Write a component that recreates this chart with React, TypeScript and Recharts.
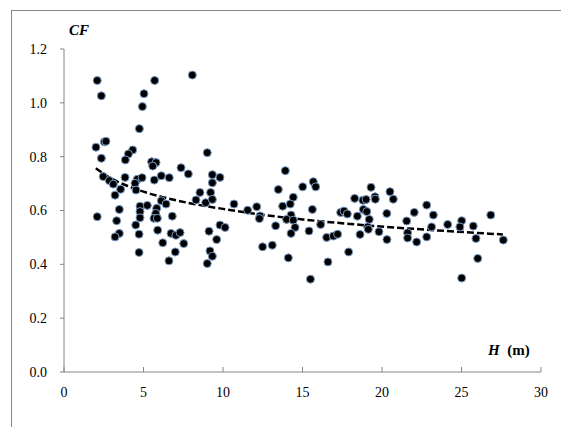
import React from 'react';
import { ComposedChart, Scatter, Line, XAxis, YAxis } from 'recharts';

// Measured tree height H (m)
const hValues: number[] = [
  2.09, 2.35, 5.70, 5.03, 4.93, 4.74, 2.54, 2.64, 2.01, 2.35,
  4.32, 4.05, 3.86, 5.51, 5.79, 5.58, 7.36, 7.82, 2.47, 2.85,
  3.10, 3.84, 4.61, 4.91, 5.68, 6.12, 6.62, 4.47, 3.56, 8.07,
  9.01, 9.33, 9.81, 9.33, 13.92, 13.48, 15.01, 3.21, 4.53, 4.78,
  5.24, 4.78, 4.78, 3.48, 2.09, 3.31, 5.83, 5.77, 5.66, 5.87,
  6.12, 6.42, 6.81, 4.51, 3.48, 3.21, 4.72, 5.89, 6.73, 7.04,
  7.30, 6.21, 7.53, 7.00, 4.72, 6.60, 8.55, 8.30, 8.91, 9.22,
  9.33, 10.69, 11.55, 12.12, 12.33, 12.29, 13.75, 14.42, 14.23, 14.28,
  14.00, 14.42, 14.53, 14.28, 13.31, 15.41, 9.12, 9.81, 10.13, 9.60,
  9.18, 9.33, 9.01, 12.49, 13.10, 14.11, 15.50, 15.68, 15.83, 15.62,
  16.14, 16.52, 16.94, 17.21, 16.60, 17.90, 18.28, 19.31, 18.80, 19.00,
  19.56, 19.58, 20.50, 20.71, 17.40, 17.61, 17.82, 18.45, 18.83, 19.04,
  19.20, 19.10, 19.14, 18.62, 19.81, 20.30, 20.31, 21.55, 22.03, 21.61,
  21.61, 22.18, 22.81, 22.81, 23.23, 23.12, 24.13, 25.01, 24.90, 25.74,
  25.91, 26.02, 25.01, 26.84, 27.63,
];

// Measured CF value for each point
const cfValues: number[] = [
  1.083, 1.026, 1.083, 1.034, 0.986, 0.904, 0.855, 0.857, 0.835, 0.794,
  0.825, 0.810, 0.788, 0.781, 0.778, 0.765, 0.759, 0.736, 0.726, 0.711,
  0.698, 0.723, 0.716, 0.722, 0.713, 0.729, 0.722, 0.701, 0.679, 1.103,
  0.815, 0.733, 0.723, 0.703, 0.748, 0.678, 0.688, 0.657, 0.676, 0.616,
  0.619, 0.596, 0.573, 0.604, 0.577, 0.562, 0.608, 0.589, 0.571, 0.571,
  0.636, 0.624, 0.579, 0.546, 0.515, 0.502, 0.512, 0.527, 0.515, 0.508,
  0.518, 0.480, 0.477, 0.446, 0.444, 0.413, 0.667, 0.639, 0.629, 0.667,
  0.641, 0.624, 0.601, 0.614, 0.580, 0.570, 0.616, 0.649, 0.624, 0.583,
  0.567, 0.564, 0.537, 0.515, 0.543, 0.524, 0.523, 0.546, 0.537, 0.492,
  0.450, 0.430, 0.403, 0.465, 0.471, 0.424, 0.345, 0.707, 0.688, 0.604,
  0.548, 0.500, 0.505, 0.512, 0.409, 0.446, 0.645, 0.686, 0.638, 0.641,
  0.651, 0.642, 0.670, 0.642, 0.593, 0.598, 0.587, 0.579, 0.604, 0.596,
  0.567, 0.539, 0.530, 0.511, 0.521, 0.589, 0.492, 0.561, 0.593, 0.517,
  0.498, 0.483, 0.620, 0.502, 0.583, 0.539, 0.548, 0.562, 0.539, 0.542,
  0.496, 0.422, 0.349, 0.583, 0.490,
];

// Dashed trend line
const trendH: number[] = [2, 3, 4, 5, 6, 8, 10, 12, 15, 18, 21, 24, 27.6];
const trendCF: number[] = [0.757, 0.718, 0.691, 0.670, 0.653, 0.626, 0.606, 0.588, 0.567, 0.550, 0.536, 0.524, 0.511];

const xTicks: number[] = [0, 5, 10, 15, 20, 25, 30];
const yTicks: number[] = [0, 0.2, 0.4, 0.6, 0.8, 1.0, 1.2];

const points = hValues.map((h, i) => ({ h, cf: cfValues[i] }));
const trend = trendH.map((h, i) => ({ h, cf: trendCF[i] }));

const AXIS = '#868686';
const FONT = '"Liberation Serif", "Times New Roman", serif';

const XTick = (props: any) => {
  const { x, y, payload } = props;
  return (
    <g>
      <line x1={x} x2={x} y1={y - 5} y2={y} stroke={AXIS} strokeWidth={1} />
      <text x={x} y={y + 25} textAnchor="middle" fontFamily={FONT} fontSize={14} fill="#000">
        {payload.value}
      </text>
    </g>
  );
};

const Dot = (props: any) => {
  const { cx, cy } = props;
  if (cx == null || cy == null) return null;
  return <circle cx={cx} cy={cy} r={4} fill="#000" stroke="#7a9cc6" strokeWidth={1} />;
};

export default function App() {
  return (
    <div
      style={{
        position: 'absolute',
        left: 0,
        top: 0,
        width: 561,
        height: 427,
        overflow: 'hidden',
        background: '#fff',
      }}
    >
      <div
        style={{
          position: 'absolute',
          left: 11,
          top: 10,
          width: 700,
          height: 600,
          border: `1px solid ${AXIS}`,
        }}
      />
      <div style={{ position: 'absolute', left: 0, top: 0 }}>
        <ComposedChart
          width={561}
          height={427}
          margin={{ top: 49, right: 20, bottom: 25, left: 10 }}
        >
          <XAxis
            dataKey="h"
            type="number"
            domain={[0, 30]}
            ticks={xTicks}
            allowDataOverflow
            height={30}
            axisLine={{ stroke: AXIS }}
            tickLine={false}
            tickSize={0}
            tickMargin={0}
            tick={<XTick />}
            interval={0}
          />
          <YAxis
            dataKey="cf"
            type="number"
            domain={[0, 1.2]}
            ticks={yTicks}
            allowDataOverflow
            width={54}
            axisLine={{ stroke: AXIS }}
            tickLine={{ stroke: AXIS }}
            tickSize={4}
            tickMargin={13}
            interval={0}
            tickFormatter={(v: number) => v.toFixed(1)}
            tick={{ fontFamily: FONT, fontSize: 14, fill: '#000' }}
          />
          <Scatter data={points} dataKey="cf" shape={<Dot />} isAnimationActive={false} />
          <Line
            data={trend}
            dataKey="cf"
            type="monotone"
            stroke="#000"
            strokeWidth={2.5}
            strokeDasharray="7 3"
            dot={false}
            activeDot={false}
            isAnimationActive={false}
          />
        </ComposedChart>
      </div>
      <div
        style={{
          position: 'absolute',
          left: 69,
          top: 22,
          fontFamily: FONT,
          fontSize: 15,
          fontWeight: 'bold',
          fontStyle: 'italic',
          lineHeight: '17px',
        }}
      >
        CF
      </div>
      <div
        style={{
          position: 'absolute',
          left: 488,
          top: 342,
          fontFamily: FONT,
          fontSize: 15,
          fontWeight: 'bold',
          lineHeight: '17px',
          whiteSpace: 'pre',
        }}
      >
        <span style={{ fontStyle: 'italic' }}>H</span>
        {'  (m)'}
      </div>
    </div>
  );
}
